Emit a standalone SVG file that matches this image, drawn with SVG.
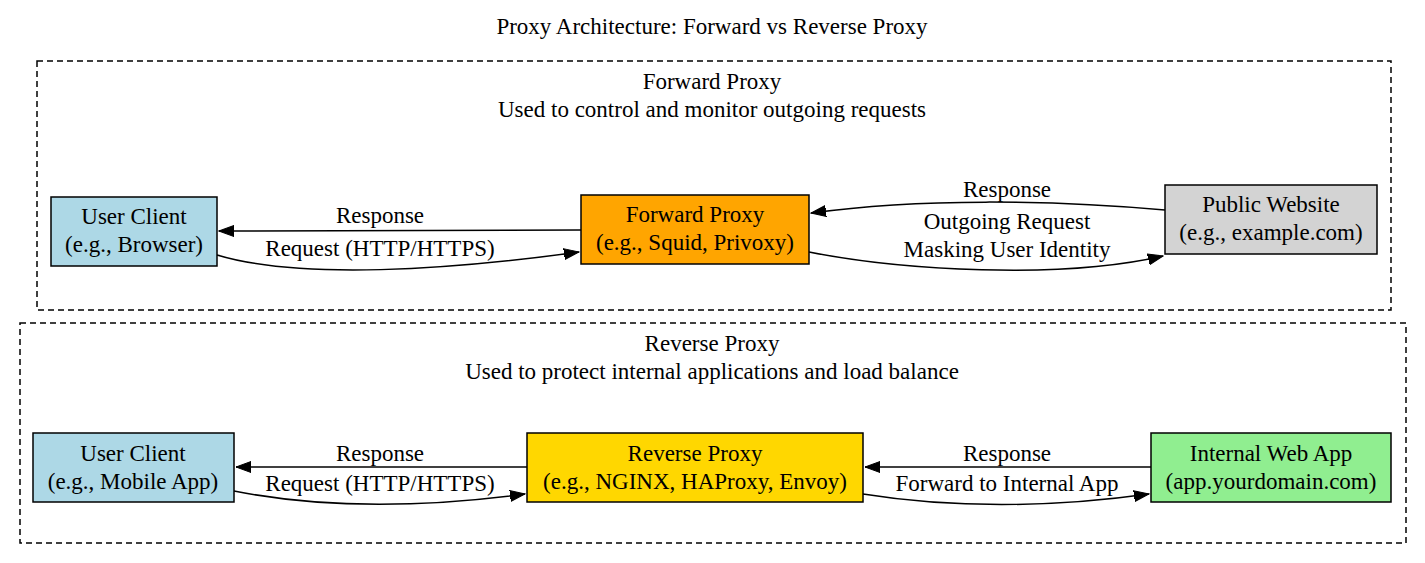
<svg xmlns="http://www.w3.org/2000/svg" width="1425" height="563" viewBox="0 0 1425 563">
<defs>
<marker id="arr" markerWidth="16" markerHeight="12" refX="15" refY="6" orient="auto" markerUnits="userSpaceOnUse">
<path d="M0,0.5 L15,6 L0,11.5 Z" fill="#000" stroke="#000"/>
</marker>
<style>
text{font-family:"Liberation Serif","Times New Roman",serif;font-size:23px;fill:#000;text-anchor:middle}
.cl{fill:none;stroke:#000;stroke-width:1.5;stroke-dasharray:6,4}
.nd{stroke:#000;stroke-width:1.5}
.ed{fill:none;stroke:#000;stroke-width:1.5}
</style>
</defs>
<rect width="1425" height="563" fill="#fff"/>
<text x="712" y="34">Proxy Architecture: Forward vs Reverse Proxy</text>
<g id="cluster_forward">
<rect class="cl" x="37" y="61" width="1354" height="249"/>
<text x="712" y="89">Forward Proxy</text>
<text x="712" y="117">Used to control and monitor outgoing requests</text>
</g>
<g id="cluster_reverse">
<rect class="cl" x="20" y="323" width="1386" height="220"/>
<text x="712" y="351">Reverse Proxy</text>
<text x="712" y="379">Used to protect internal applications and load balance</text>
</g>
<g id="connectors">
<path class="ed" d="M581,230 L219,231" marker-end="url(#arr)"/>
<text x="380" y="223">Response</text>
<path class="ed" d="M217,255 C300,280 450,270 579,252" marker-end="url(#arr)"/>
<text x="380" y="256">Request (HTTP/HTTPS)</text>
<path class="ed" d="M1165,210 C1050,200 920,198 811,213" marker-end="url(#arr)"/>
<text x="1007" y="197">Response</text>
<path class="ed" d="M809,252 C900,270 1060,280 1163,256" marker-end="url(#arr)"/>
<text x="1007" y="229">Outgoing Request</text>
<text x="1007" y="257">Masking User Identity</text>
<path class="ed" d="M527,467 L236,467" marker-end="url(#arr)"/>
<text x="380" y="461">Response</text>
<path class="ed" d="M234,491 C320,508 420,508 525,494" marker-end="url(#arr)"/>
<text x="380" y="491">Request (HTTP/HTTPS)</text>
<path class="ed" d="M1151,467 L865,467" marker-end="url(#arr)"/>
<text x="1007" y="461">Response</text>
<path class="ed" d="M863,494 C950,508 1050,508 1149,494" marker-end="url(#arr)"/>
<text x="1007" y="491">Forward to Internal App</text>
</g>
<g id="node_user_client_browser">
<rect class="nd" x="51" y="197" width="166" height="69" fill="#add8e6"/>
<text x="134" y="224">User Client</text>
<text x="134" y="252">(e.g., Browser)</text>
</g>
<g id="node_forward_proxy">
<rect class="nd" x="581" y="195" width="228" height="69" fill="#ffa500"/>
<text x="695" y="222">Forward Proxy</text>
<text x="695" y="250">(e.g., Squid, Privoxy)</text>
</g>
<g id="node_public_website">
<rect class="nd" x="1165" y="185" width="212" height="69" fill="#d3d3d3"/>
<text x="1271" y="212">Public Website</text>
<text x="1271" y="240">(e.g., example.com)</text>
</g>
<g id="node_user_client_mobile">
<rect class="nd" x="33" y="433" width="201" height="69" fill="#add8e6"/>
<text x="133" y="461">User Client</text>
<text x="133" y="489">(e.g., Mobile App)</text>
</g>
<g id="node_reverse_proxy">
<rect class="nd" x="527" y="433" width="336" height="69" fill="#ffd700"/>
<text x="695" y="461">Reverse Proxy</text>
<text x="695" y="489">(e.g., NGINX, HAProxy, Envoy)</text>
</g>
<g id="node_internal_web_app">
<rect class="nd" x="1151" y="433" width="240" height="69" fill="#90ee90"/>
<text x="1271" y="461">Internal Web App</text>
<text x="1271" y="489">(app.yourdomain.com)</text>
</g>
</svg>
